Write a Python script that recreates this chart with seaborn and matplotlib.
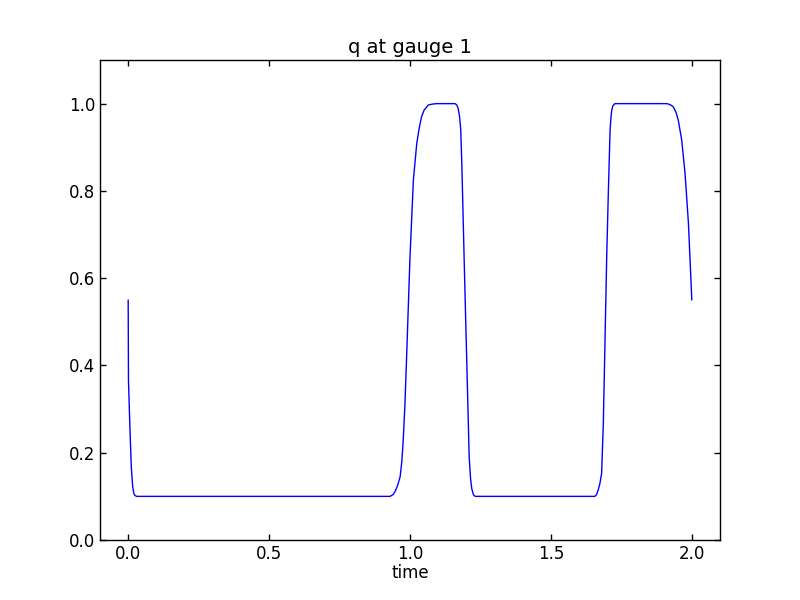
import pandas as pd
import numpy as np
import matplotlib
matplotlib.use('Agg')
import matplotlib.pyplot as plt
import seaborn as sns

# values
time = [0.0, 0.001, 0.0064, 0.011, 0.016, 0.02, 0.024, 0.03, 0.2, 0.5, 0.8,
        0.929, 0.94, 0.947, 0.956, 0.965, 0.971, 0.976, 0.982, 0.988, 1.0,
        1.012, 1.024, 1.033, 1.041, 1.05, 1.065, 1.08, 1.094,
        1.16, 1.166, 1.171, 1.176, 1.18, 1.184, 1.189, 1.195, 1.201, 1.21,
        1.215, 1.219, 1.225, 1.231, 1.4, 1.656,
        1.662, 1.668, 1.674, 1.68, 1.686, 1.692, 1.698, 1.704, 1.71, 1.713,
        1.716, 1.72, 1.727, 1.911,
        1.922, 1.934, 1.944, 1.952, 1.964, 1.976, 1.988, 2.0]
q = [0.55, 0.367, 0.252, 0.168, 0.122, 0.107, 0.102, 0.1, 0.1, 0.1, 0.1,
     0.1, 0.104, 0.111, 0.125, 0.145, 0.18, 0.229, 0.31, 0.42, 0.649,
     0.825, 0.909, 0.945, 0.97, 0.985, 0.997, 0.999, 1.0,
     1.0, 0.997, 0.989, 0.97, 0.94, 0.86, 0.726, 0.57, 0.42, 0.19,
     0.14, 0.118, 0.104, 0.1, 0.1, 0.1,
     0.104, 0.115, 0.13, 0.153, 0.267, 0.458, 0.649, 0.802, 0.94, 0.968,
     0.985, 0.995, 1.0, 1.0,
     0.998, 0.993, 0.98, 0.962, 0.917, 0.84, 0.726, 0.55]

df = pd.DataFrame({'time': time, 'q': q})

sns.set_style('white', {
    'axes.edgecolor': 'black',
    'axes.labelcolor': 'black',
    'text.color': 'black',
    'xtick.color': 'black',
    'ytick.color': 'black',
    'xtick.direction': 'in',
    'ytick.direction': 'in',
    'xtick.top': True,
    'ytick.right': True,
    'xtick.bottom': True,
    'ytick.left': True,
})
plt.rcParams['font.family'] = ['DejaVu Sans']
plt.rcParams['font.size'] = 12

fig = plt.figure(figsize=(8, 6), dpi=100)
ax = fig.add_subplot(111)
fig.subplots_adjust(left=0.125, right=0.9, bottom=0.1, top=0.9)

sns.lineplot(data=df, x='time', y='q', sort=False, estimator=None,
             color='#0000ff', linewidth=1.0, ax=ax)

ax.set_xlim(-0.1, 2.1)
ax.set_ylim(0.0, 1.1)
ax.set_xticks([0.0, 0.5, 1.0, 1.5, 2.0])
ax.set_yticks([0.0, 0.2, 0.4, 0.6, 0.8, 1.0])
ax.tick_params(labelsize=12, width=1, length=4, color='black', labelcolor='black')
ax.set_title('q at gauge 1', fontsize=14, color='black', pad=5)
ax.set_xlabel('time', fontsize=12, color='black', labelpad=1)
ax.set_ylabel('')
for s in ax.spines.values():
    s.set_linewidth(1.0)

plt.savefig('out.png', dpi=100)
plt.close()
